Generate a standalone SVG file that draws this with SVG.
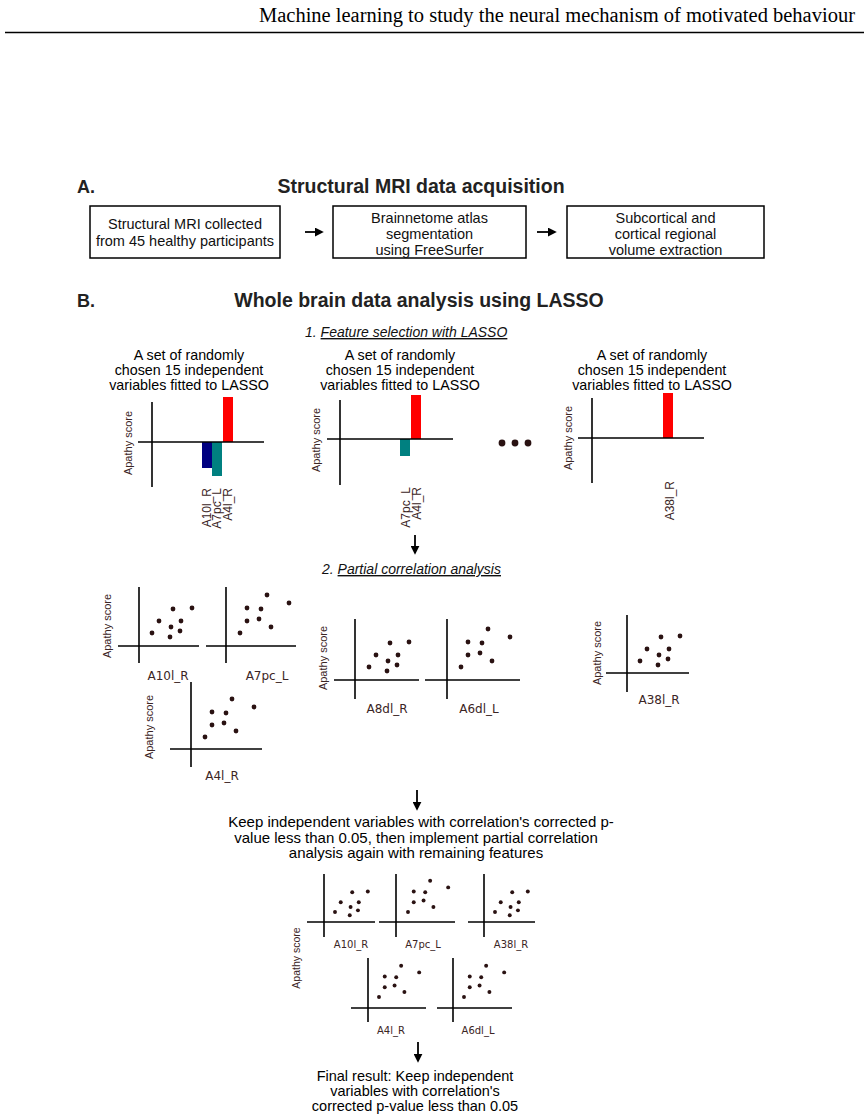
<svg xmlns="http://www.w3.org/2000/svg" width="864" height="1119" viewBox="0 0 864 1119">
<defs>
<style>
.hdr{font-family:"Liberation Serif",serif;font-size:20.5px;fill:#000}
.sec{font-family:"Liberation Sans",Arial,sans-serif;font-weight:bold;font-size:18px;fill:#222}
.ttl{font-family:"Liberation Sans",Arial,sans-serif;font-weight:bold;font-size:19.5px;fill:#222;text-anchor:middle}
.box{fill:#fff;stroke:#000;stroke-width:1.5}
.bt{font-family:"Liberation Sans",Arial,sans-serif;font-size:14.5px;fill:#111;text-anchor:middle}
.step{font-family:"Liberation Sans",Arial,sans-serif;font-style:italic;font-size:14px;fill:#111}
.ct{font-family:"Liberation Sans",Arial,sans-serif;font-size:14.3px;fill:#000;text-anchor:middle}
.ax{stroke:#000;stroke-width:1.6;fill:none}
.ap{font-family:"Liberation Sans",Arial,sans-serif;font-size:11px;fill:#3b2525;text-anchor:middle}
.ap2{font-family:"Liberation Sans",Arial,sans-serif;font-size:10.5px;fill:#3b2525;text-anchor:middle}
.bl{font-family:"Liberation Sans",Arial,sans-serif;font-size:12px;fill:#3b2525;text-anchor:end}
.sl{font-family:"DejaVu Sans",Verdana,sans-serif;font-size:12px;fill:#3b2525;text-anchor:middle}
.sl2{font-family:"DejaVu Sans",Verdana,sans-serif;font-size:10px;fill:#3b2525;text-anchor:middle}
.tx{font-family:"Liberation Sans",Arial,sans-serif;font-size:15px;fill:#000;text-anchor:middle}
.tf{font-family:"Liberation Sans",Arial,sans-serif;font-size:14.5px;fill:#000;text-anchor:middle}
.d{fill:#2a1212}
.arr{stroke:#000;stroke-width:1.8;fill:none;marker-end:url(#ah)}
</style>
<marker id="ah" viewBox="0 0 10 10" refX="8" refY="5" markerWidth="5" markerHeight="5" orient="auto" markerUnits="strokeWidth">
<path d="M0,0 L10,5 L0,10 z" fill="#000"/>
</marker>
<g id="dots8">
<circle class="d" cx="0" cy="0" r="2.4"/>
<circle class="d" cx="7" cy="-12" r="2.4"/>
<circle class="d" cx="18" cy="4" r="2.4"/>
<circle class="d" cx="19" cy="-6" r="2.4"/>
<circle class="d" cx="21" cy="-24" r="2.4"/>
<circle class="d" cx="28" cy="-2" r="2.4"/>
<circle class="d" cx="29" cy="-12" r="2.4"/>
<circle class="d" cx="40" cy="-25" r="2.4"/>
</g>
<g id="dots8b">
<circle class="d" cx="0" cy="0" r="2.4"/>
<circle class="d" cx="7" cy="-12" r="2.4"/>
<circle class="d" cx="7" cy="-25" r="2.4"/>
<circle class="d" cx="19" cy="-14" r="2.4"/>
<circle class="d" cx="21" cy="-24" r="2.4"/>
<circle class="d" cx="27" cy="-38" r="2.4"/>
<circle class="d" cx="31" cy="-6" r="2.4"/>
<circle class="d" cx="49" cy="-30" r="2.4"/>
</g>
</defs>

<g id="header">
<text class="hdr" x="855" y="22" text-anchor="end">Machine learning to study the neural mechanism of motivated behaviour</text>
<line x1="5" y1="32.5" x2="864" y2="32.5" stroke="#000" stroke-width="1.3"/>
</g>

<g id="sectionA">
<text class="sec" x="77" y="193">A.</text>
<text class="ttl" x="421" y="193">Structural MRI data acquisition</text>
</g>

<g id="box1">
<rect class="box" x="90" y="206" width="190" height="52"/>
<text class="bt" x="185" y="229">Structural MRI collected</text>
<text class="bt" x="185" y="246">from 45 healthy participants</text>
</g>
<g id="box2">
<rect class="box" x="333" y="206" width="193" height="52"/>
<text class="bt" x="429.5" y="223">Brainnetome atlas</text>
<text class="bt" x="429.5" y="239">segmentation</text>
<text class="bt" x="429.5" y="255">using FreeSurfer</text>
</g>
<g id="box3">
<rect class="box" x="567" y="206" width="197" height="52"/>
<text class="bt" x="665.5" y="223">Subcortical and</text>
<text class="bt" x="665.5" y="239">cortical regional</text>
<text class="bt" x="665.5" y="255">volume extraction</text>
</g>

<g id="sectionB">
<text class="sec" x="77" y="307">B.</text>
<text class="ttl" x="419" y="307">Whole brain data analysis using LASSO</text>
<text class="step" x="305" y="337">1. <tspan text-decoration="underline">Feature selection with LASSO</tspan></text>
<text class="step" x="322" y="574">2. <tspan text-decoration="underline">Partial correlation analysis</tspan></text>
</g>

<g id="lasso1">
<text class="ct" x="189" y="360">A set of randomly</text>
<text class="ct" x="189" y="375">chosen 15 independent</text>
<text class="ct" x="189" y="390">variables fitted to LASSO</text>
<rect x="223" y="397" width="10" height="45" fill="#ff0000"/>
<rect x="202" y="442" width="10" height="26" fill="#000080"/>
<rect x="212" y="442" width="10" height="34" fill="#008080"/>
<line class="ax" x1="152" y1="402" x2="152" y2="487"/>
<line class="ax" x1="138" y1="442" x2="264" y2="442"/>
<text class="ap" transform="translate(132,443) rotate(-90)">Apathy score</text>
<text class="bl" transform="translate(210.5,488) rotate(-90)">A10l_R</text>
<text class="bl" transform="translate(221,488) rotate(-90)">A7pc_L</text>
<text class="bl" transform="translate(231.5,488) rotate(-90)">A4l_R</text>
</g>

<g id="lasso2">
<text class="ct" x="400" y="360">A set of randomly</text>
<text class="ct" x="400" y="375">chosen 15 independent</text>
<text class="ct" x="400" y="390">variables fitted to LASSO</text>
<rect x="411" y="395" width="10" height="44" fill="#ff0000"/>
<rect x="400" y="439" width="10" height="17" fill="#008080"/>
<line class="ax" x1="340" y1="400" x2="340" y2="485"/>
<line class="ax" x1="327" y1="439" x2="453" y2="439"/>
<text class="ap" transform="translate(320,440) rotate(-90)">Apathy score</text>
<text class="bl" transform="translate(410,487) rotate(-90)">A7pc_L</text>
<text class="bl" transform="translate(420.5,487) rotate(-90)">A4l_R</text>
</g>

<g id="ellipsis">
<circle class="d" cx="502" cy="443" r="3.4"/>
<circle class="d" cx="515" cy="443" r="3.4"/>
<circle class="d" cx="528" cy="443" r="3.4"/>
</g>

<g id="lasso3">
<text class="ct" x="652" y="360">A set of randomly</text>
<text class="ct" x="652" y="375">chosen 15 independent</text>
<text class="ct" x="652" y="390">variables fitted to LASSO</text>
<rect x="663" y="393" width="10" height="45" fill="#ff0000"/>
<line class="ax" x1="592" y1="398" x2="592" y2="483"/>
<line class="ax" x1="578" y1="438" x2="704" y2="438"/>
<text class="ap" transform="translate(572,438) rotate(-90)">Apathy score</text>
<text class="bl" transform="translate(674,481) rotate(-90)">A38l_R</text>
</g>

<g id="scatterA10">
<line class="ax" x1="139" y1="587" x2="139" y2="663"/>
<line class="ax" x1="118" y1="646" x2="199" y2="646"/>
<use href="#dots8" x="152" y="633"/>
<text class="ap" transform="translate(111,626) rotate(-90)">Apathy score</text>
<text class="sl" x="168" y="680">A10l_R</text>
</g>
<g id="scatterA7">
<line class="ax" x1="226" y1="587" x2="226" y2="663"/>
<line class="ax" x1="206" y1="646" x2="296" y2="646"/>
<use href="#dots8b" x="240" y="633"/>
<text class="sl" x="267" y="680">A7pc_L</text>
</g>
<g id="scatterA4">
<line class="ax" x1="191" y1="682" x2="191" y2="767"/>
<line class="ax" x1="170" y1="749" x2="262" y2="749"/>
<use href="#dots8b" x="205" y="737"/>
<text class="ap" transform="translate(153,727) rotate(-90)">Apathy score</text>
<text class="sl" x="222" y="780">A4l_R</text>
</g>
<g id="scatterA8">
<line class="ax" x1="355" y1="619" x2="355" y2="699"/>
<line class="ax" x1="334" y1="680" x2="419" y2="680"/>
<use href="#dots8" x="369" y="667"/>
<text class="ap" transform="translate(327,658) rotate(-90)">Apathy score</text>
<text class="sl" x="387" y="713">A8dl_R</text>
</g>
<g id="scatterA6">
<line class="ax" x1="447" y1="619" x2="447" y2="699"/>
<line class="ax" x1="425" y1="680" x2="520" y2="680"/>
<use href="#dots8b" x="461" y="667"/>
<text class="sl" x="479" y="713">A6dl_L</text>
</g>
<g id="scatterA38">
<line class="ax" x1="627" y1="615" x2="627" y2="692"/>
<line class="ax" x1="606" y1="673" x2="689" y2="673"/>
<use href="#dots8" x="640" y="661"/>
<text class="ap" transform="translate(601,653) rotate(-90)">Apathy score</text>
<text class="sl" x="659" y="704">A38l_R</text>
</g>

<g id="keepText">
<text class="tx" x="421" y="827">Keep independent variables with correlation's corrected p-</text>
<text class="tx" x="416" y="843">value less than 0.05, then implement partial correlation</text>
<text class="tx" x="416" y="858">analysis again with remaining features</text>
</g>

<g id="small1">
<line class="ax" x1="324" y1="874" x2="324" y2="937"/>
<line class="ax" x1="307" y1="922" x2="375" y2="922"/>
<use href="#dots8" transform="translate(335,912) scale(0.82)"/>
<text class="sl2" x="351" y="948">A10l_R</text>
</g>
<g id="small2">
<line class="ax" x1="396" y1="874" x2="396" y2="937"/>
<line class="ax" x1="379" y1="922" x2="455" y2="922"/>
<use href="#dots8b" transform="translate(408,912) scale(0.82)"/>
<text class="sl2" x="423" y="948">A7pc_L</text>
</g>
<g id="small3">
<line class="ax" x1="484" y1="874" x2="484" y2="937"/>
<line class="ax" x1="468" y1="922" x2="535" y2="922"/>
<use href="#dots8" transform="translate(495,912) scale(0.82)"/>
<text class="sl2" x="511" y="948">A38l_R</text>
</g>
<g id="small4">
<line class="ax" x1="368" y1="958" x2="368" y2="1022"/>
<line class="ax" x1="351" y1="1008" x2="426" y2="1008"/>
<use href="#dots8b" transform="translate(379,997) scale(0.82)"/>
<text class="sl2" x="391" y="1034">A4l_R</text>
</g>
<g id="small5">
<line class="ax" x1="453" y1="958" x2="453" y2="1022"/>
<line class="ax" x1="437" y1="1008" x2="512" y2="1008"/>
<use href="#dots8b" transform="translate(464,997) scale(0.82)"/>
<text class="sl2" x="478" y="1034">A6dl_L</text>
</g>
<g id="smallAxisLabel">
<text class="ap2" transform="translate(300,958) rotate(-90)">Apathy score</text>
</g>

<g id="finalText">
<text class="tf" x="415" y="1081">Final result: Keep independent</text>
<text class="tf" x="415" y="1096">variables with correlation's</text>
<text class="tf" x="415" y="1111">corrected p-value less than 0.05</text>
</g>

<g id="connectors">
<line class="arr" x1="305" y1="232" x2="322" y2="232"/>
<line class="arr" x1="537" y1="232" x2="555" y2="232"/>
<line class="arr" x1="415" y1="535" x2="415" y2="553"/>
<line class="arr" x1="417" y1="790" x2="417" y2="809"/>
<line class="arr" x1="418" y1="1042" x2="418" y2="1061"/>
</g>
</svg>
